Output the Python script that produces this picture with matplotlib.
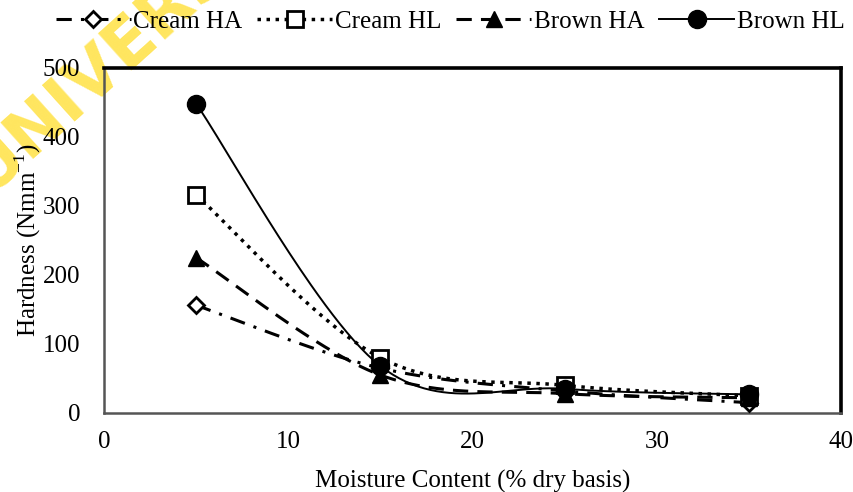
import matplotlib.pyplot as plt
import numpy as np

plt.rcParams['font.family'] = ['Liberation Serif', 'DejaVu Serif']

moisture = [5, 15, 25, 35]
cream_ha = [156, 65, 32, 15]
cream_hl = [316, 80, 40, 25]
brown_ha = [225, 55, 28, 22]
brown_hl = [448, 68, 35, 27]


def smooth(x, y, n=60):
    # Excel-like smoothed line (Catmull-Rom through the points)
    x = np.asarray(x, float)
    y = np.asarray(y, float)
    px = np.concatenate(([x[0]], x, [x[-1]]))
    py = np.concatenate(([y[0]], y, [y[-1]]))
    xs, ys = [], []
    t = np.linspace(0, 1, n)
    for i in range(1, len(px) - 2):
        p0, p1, p2, p3 = [np.array([px[j], py[j]]) for j in range(i - 1, i + 3)]
        c1 = p1 + (p2 - p0) / 6
        c2 = p2 - (p3 - p1) / 6
        b = ((1 - t) ** 3)[:, None] * p1 + (3 * (1 - t) ** 2 * t)[:, None] * c1 \
            + (3 * (1 - t) * t ** 2)[:, None] * c2 + (t ** 3)[:, None] * p2
        xs.extend(b[:, 0])
        ys.extend(b[:, 1])
    return xs, ys


fig = plt.figure(figsize=(8.54, 4.92), dpi=100)

# watermark behind everything
fig.text(-0.014, 0.605, 'UNIVERSITY', color='#FFE34D', fontsize=48, fontweight='bold',
         family='DejaVu Sans', rotation=42, rotation_mode='anchor', alpha=0.9, zorder=-5)

ax = fig.add_axes([0.1218, 0.1606, 0.863, 0.7014])
ax.patch.set_alpha(0)

series = [
    ('Cream HA', cream_ha, dict(ls=(0, (5, 3, 1, 3)), lw=2.2), dict(marker='D', mfc='white', ms=8, mew=2)),
    ('Cream HL', cream_hl, dict(ls=(0, (1, 1.6)), lw=2.5), dict(marker='s', mfc='white', ms=12, mew=2)),
    ('Brown HA', brown_ha, dict(ls=(0, (5, 3)), lw=2.2), dict(marker='^', mfc='black', ms=12, mew=1)),
    ('Brown HL', brown_hl, dict(ls='-', lw=1.4), dict(marker='o', mfc='black', ms=13, mew=1)),
]

handles = []
for name, vals, lstyle, mstyle in series:
    sx, sy = smooth(moisture, vals)
    ax.plot(sx, sy, color='black', **lstyle, zorder=2)
    ax.plot(moisture, vals, ls='none', color='black', mec='black', **mstyle, zorder=3)
    h, = plt.plot([], [], color='black', mec='black', **lstyle, **mstyle, label=name)
    handles.append(h)

ax.set_xlim(0, 40)
ax.set_ylim(0, 500)
ax.set_xticks([0, 10, 20, 30, 40])
ax.set_yticks([0, 100, 200, 300, 400, 500])
ax.tick_params(length=0, labelsize=18)
ax.tick_params(axis='x', pad=13)
ax.tick_params(axis='y', pad=17)
ax.set_xlabel('Moisture Content (% dry basis)', fontsize=18, labelpad=12)
ax.set_ylabel('Hardness (Nmm$^{\\mathregular{-1}}$)', fontsize=18, labelpad=0)

for s in ['top', 'right']:
    ax.spines[s].set_linewidth(2.6)
    ax.spines[s].set_color('black')
for s in ['left', 'bottom']:
    ax.spines[s].set_linewidth(1.8)
    ax.spines[s].set_color('#555555')

fig.legend(handles=handles, loc='upper center', bbox_to_anchor=(0.527, 1.025), ncol=4,
           frameon=False, fontsize=18, handlelength=3.0, columnspacing=0.6, handletextpad=0.1)

fig.savefig('out.png', dpi=100)
